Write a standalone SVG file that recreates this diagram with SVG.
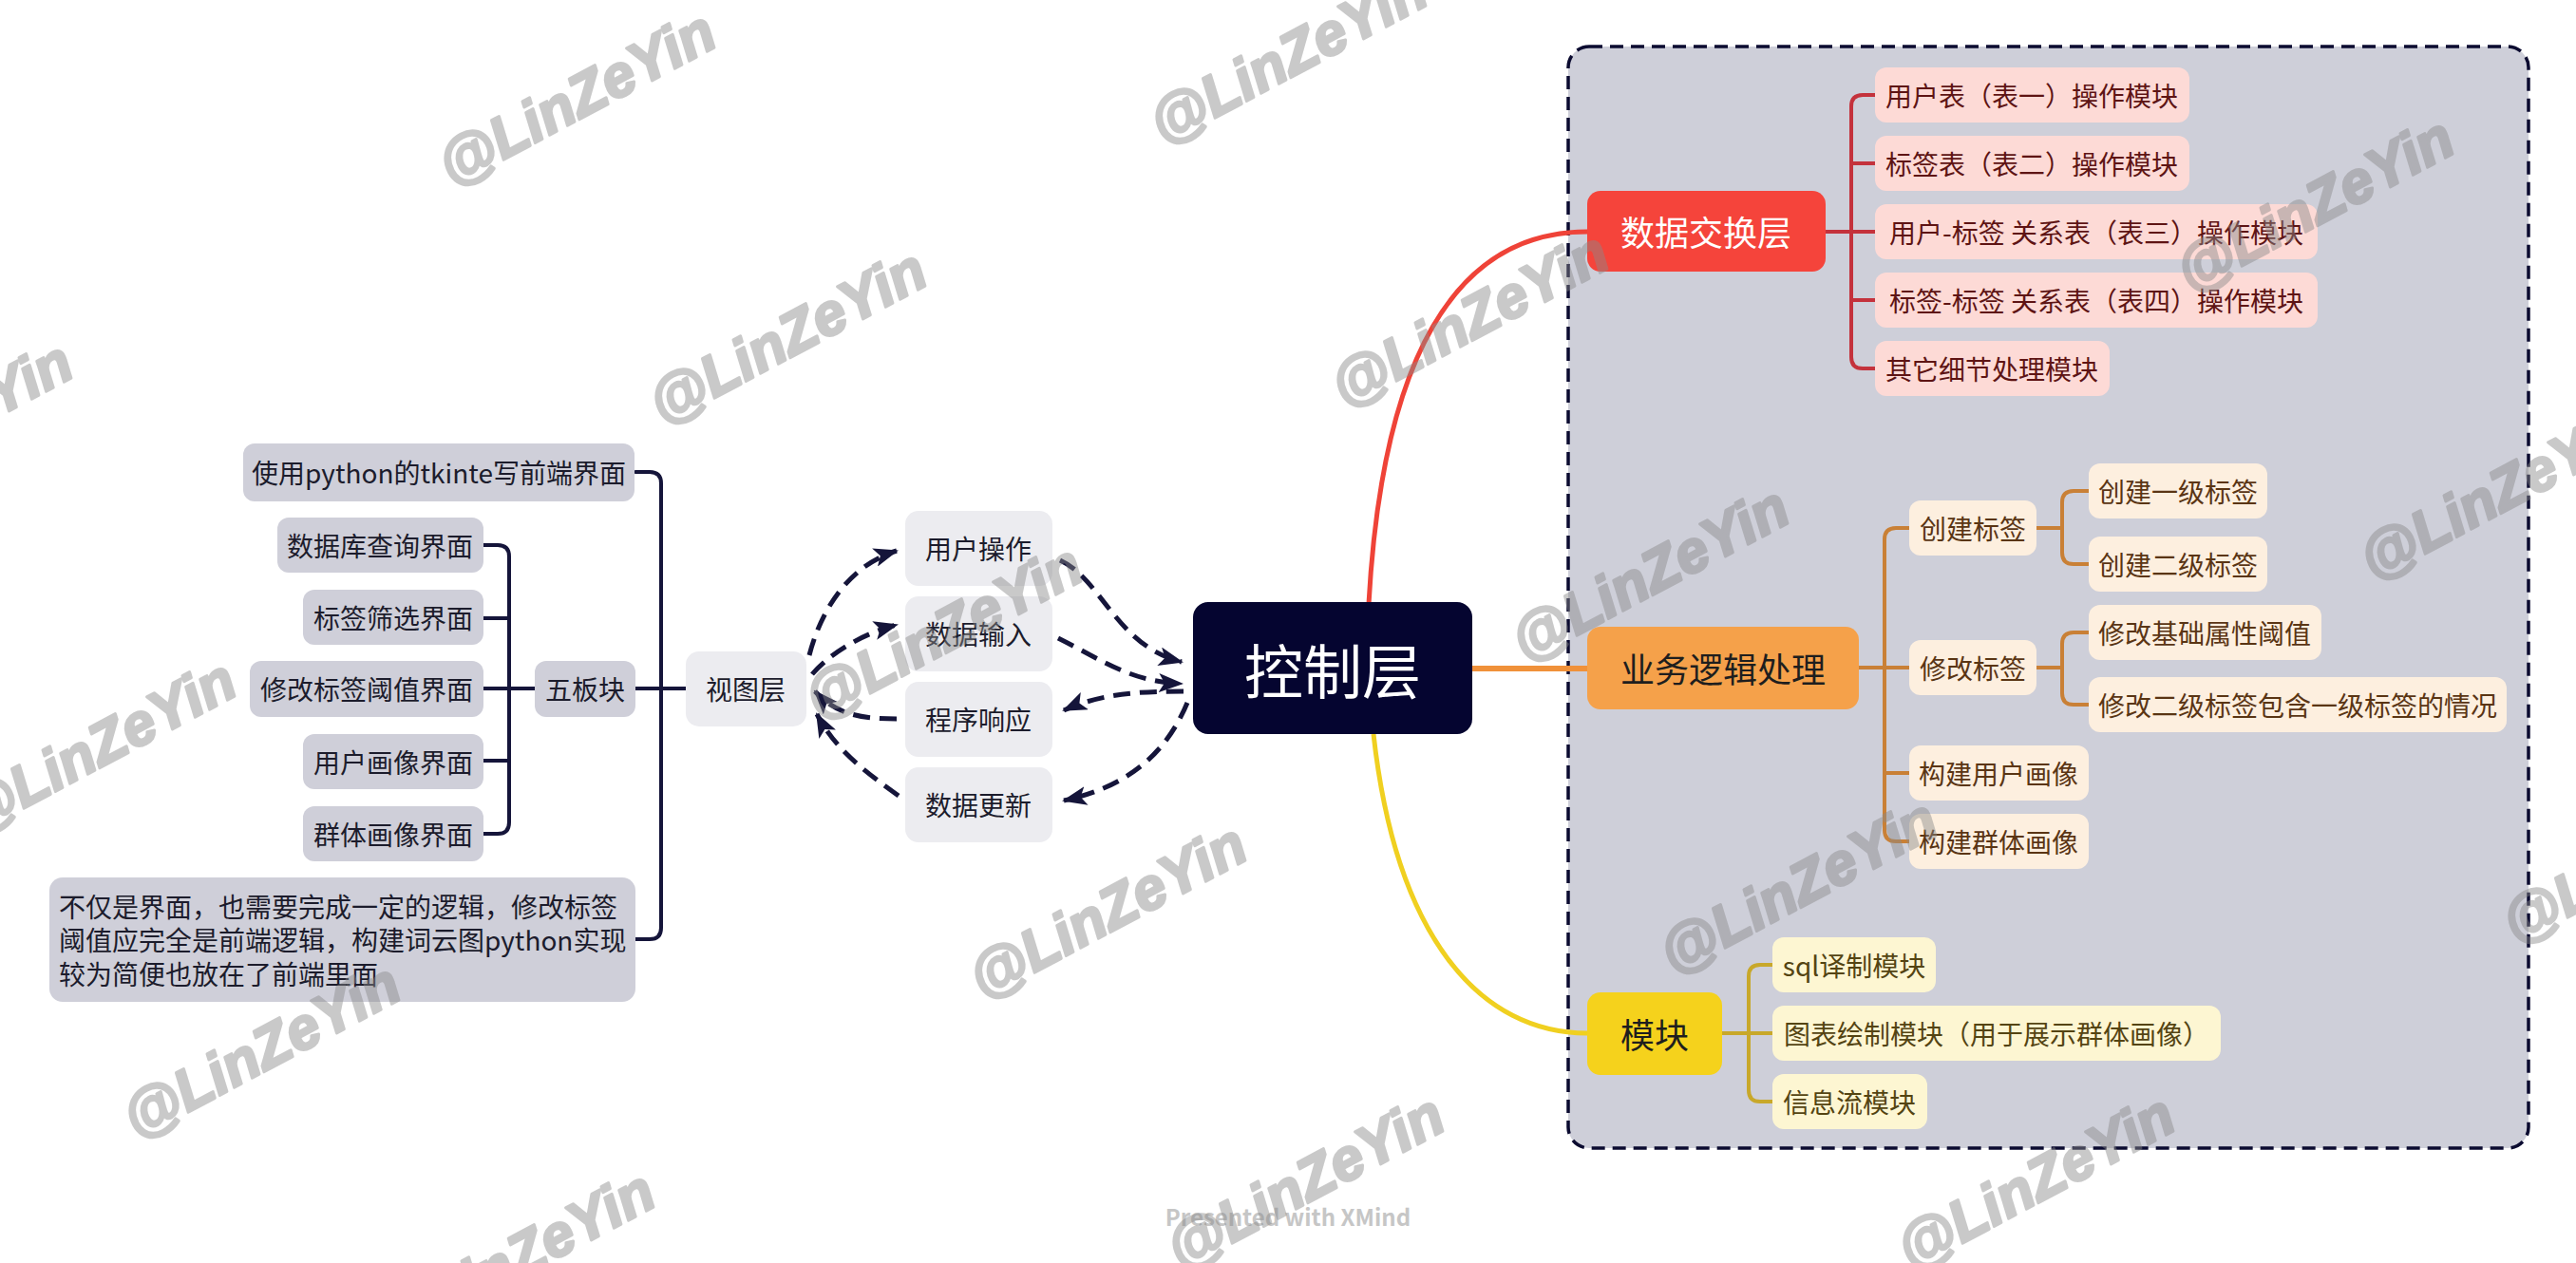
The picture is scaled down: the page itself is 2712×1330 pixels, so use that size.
<svg xmlns="http://www.w3.org/2000/svg" width="2712" height="1330" viewBox="0 0 2712 1330">
<style>
text{font-family:"Noto Sans CJK SC","Noto Sans",sans-serif;}
.t{font-size:28px;text-anchor:middle;dominant-baseline:central;}
.tl{font-size:28px;dominant-baseline:central;}
.big{font-size:36px;text-anchor:middle;dominant-baseline:central;}
.gray rect{fill:#cfcfd9;}
.gray text{fill:#1c1c2c;}
.light rect{fill:#ececf0;}
.light text{fill:#1c1c2c;}
.pink rect{fill:#fddad6;}
.pink text{fill:#5e1414;}
.cream rect{fill:#fdefdf;}
.cream text{fill:#5a3514;}
.yel rect{fill:#fdf6d2;}
.yel text{fill:#544412;}
.navy{fill:none;stroke:#15153a;stroke-width:4;stroke-linecap:round;stroke-linejoin:round;}
.dash{fill:none;stroke:#15153a;stroke-width:5;stroke-dasharray:18 10;}
.redl{fill:none;stroke:#c4323c;stroke-width:4;stroke-linejoin:round;}
.orl{fill:none;stroke:#c98036;stroke-width:4;stroke-linejoin:round;}
.yll{fill:none;stroke:#c8a82a;stroke-width:4;stroke-linejoin:round;}
.wm text{font-family:"Liberation Sans",Arial,sans-serif;font-weight:bold;font-style:italic;font-size:62px;fill:#8a8a8a;stroke:#8a8a8a;stroke-width:3;stroke-linejoin:round;opacity:0.45;text-anchor:middle;}
</style>
<defs>
<marker id="ah" viewBox="0 0 26 20" refX="24" refY="10" markerWidth="26" markerHeight="20" markerUnits="userSpaceOnUse" orient="auto">
<path d="M0,0 L26,10 L0,20 L6,10 z" fill="#15153a"/>
</marker>
</defs>
<rect width="2712" height="1330" fill="#ffffff"/>

<g id="boundary">
<rect x="1651" y="49" width="1011" height="1160" rx="22" fill="#cecfd9" stroke="#0b0b30" stroke-width="3.5" stroke-dasharray="14 8"/>
</g>

<g id="connectors">
<path class="navy" d="M669 497 H684 Q696 497 696 509 V977 Q696 989 684 989 H669"/>
<path class="navy" d="M669 725 H722"/>
<path class="navy" d="M509 574 H524 Q536 574 536 586 V866 Q536 878 524 878 H509"/>
<path class="navy" d="M509 651 H536 M509 801 H536 M509 725 H563"/>
<path class="dash" marker-end="url(#ah)" d="M852 690 C865 640 895 595 944 580"/>
<path class="dash" marker-end="url(#ah)" d="M855 710 C872 690 905 668 944 658"/>
<path class="dash" marker-end="url(#ah)" d="M944 757 C905 757 880 752 858 728"/>
<path class="dash" marker-end="url(#ah)" d="M946 838 C910 812 880 790 860 752"/>
<path class="dash" marker-end="url(#ah)" d="M1116 590 C1160 610 1175 680 1244 697"/>
<path class="dash" marker-end="url(#ah)" d="M1114 672 C1160 695 1190 718 1244 720"/>
<path class="dash" marker-end="url(#ah)" d="M1246 728 C1200 728 1160 730 1120 748"/>
<path class="dash" marker-end="url(#ah)" d="M1250 740 C1225 800 1180 830 1120 843"/>
<path fill="none" stroke="#ef4338" stroke-width="5" d="M1441 636 C1455 380 1530 244 1671 244"/>
<path fill="none" stroke="#f0913a" stroke-width="6" d="M1550 704 H1671"/>
<path fill="none" stroke="#f0d020" stroke-width="5" d="M1446 773 C1470 990 1560 1088 1671 1088"/>
<path class="redl" d="M1974 100 H1961 Q1949 100 1949 112 V376 Q1949 388 1961 388 H1974"/>
<path class="redl" d="M1949 172 H1974 M1921 244 H1974 M1949 316 H1974"/>
<path class="orl" d="M2010 556 H1996 Q1984 556 1984 568 V874 Q1984 886 1996 886 H2010"/>
<path class="orl" d="M1957 703 H2010 M1984 814 H2010"/>
<path class="orl" d="M2199 517 H2183 Q2171 517 2171 529 V582 Q2171 594 2183 594 H2199 M2144 556 H2171"/>
<path class="orl" d="M2199 666 H2183 Q2171 666 2171 678 V730 Q2171 742 2183 742 H2199 M2144 703 H2171"/>
<path class="yll" d="M1866 1016 H1853 Q1841 1016 1841 1028 V1148 Q1841 1160 1853 1160 H1866"/>
<path class="yll" d="M1813 1088 H1866"/>
</g>

<g id="n-tk" class="gray"><rect x="256" y="467" width="412" height="61" rx="12"/><text class="t" x="462" y="497">使用python的tkinte写前端界面</text></g>
<g id="n-db" class="gray"><rect x="292" y="545" width="217" height="58" rx="12"/><text class="t" x="400" y="574">数据库查询界面</text></g>
<g id="n-tag" class="gray"><rect x="319" y="621" width="190" height="58" rx="12"/><text class="t" x="414" y="650">标签筛选界面</text></g>
<g id="n-thr" class="gray"><rect x="263" y="696" width="246" height="59" rx="12"/><text class="t" x="386" y="725">修改标签阈值界面</text></g>
<g id="n-user" class="gray"><rect x="319" y="773" width="190" height="58" rx="12"/><text class="t" x="414" y="802">用户画像界面</text></g>
<g id="n-group" class="gray"><rect x="319" y="849" width="190" height="58" rx="12"/><text class="t" x="414" y="878">群体画像界面</text></g>
<g id="n-five" class="gray"><rect x="563" y="696" width="106" height="59" rx="12"/><text class="t" x="616" y="725">五板块</text></g>
<g id="n-note" class="gray"><rect x="52" y="924" width="617" height="131" rx="14"/>
<text class="tl" x="62" y="954">不仅是界面，也需要完成一定的逻辑，修改标签</text>
<text class="tl" x="62" y="989">阈值应完全是前端逻辑，构建词云图python实现</text>
<text class="tl" x="62" y="1025">较为简便也放在了前端里面</text></g>
<g id="n-view" class="light"><rect x="722" y="686" width="127" height="79" rx="14"/><text class="t" x="785" y="725">视图层</text></g>

<g id="n-op" class="light"><rect x="953" y="538" width="155" height="79" rx="14"/><text class="t" x="1030" y="577">用户操作</text></g>
<g id="n-in" class="light"><rect x="953" y="628" width="155" height="79" rx="14"/><text class="t" x="1030" y="667">数据输入</text></g>
<g id="n-resp" class="light"><rect x="953" y="718" width="155" height="79" rx="14"/><text class="t" x="1030" y="757">程序响应</text></g>
<g id="n-upd" class="light"><rect x="953" y="808" width="155" height="79" rx="14"/><text class="t" x="1030" y="847">数据更新</text></g>

<g id="n-ctrl"><rect x="1256" y="634" width="294" height="139" rx="16" fill="#050530"/><text x="1403" y="704" font-size="62" fill="#ffffff" text-anchor="middle" dominant-baseline="central">控制层</text></g>

<g id="n-dx"><rect x="1671" y="201" width="251" height="85" rx="14" fill="#f5443b"/><text class="big" x="1796" y="243" fill="#ffffff">数据交换层</text></g>
<g id="n-dx1" class="pink"><rect x="1974" y="71" width="331" height="58" rx="12"/><text class="t" x="2139" y="100">用户表（表一）操作模块</text></g>
<g id="n-dx2" class="pink"><rect x="1974" y="143" width="331" height="58" rx="12"/><text class="t" x="2139" y="172">标签表（表二）操作模块</text></g>
<g id="n-dx3" class="pink"><rect x="1974" y="215" width="466" height="58" rx="12"/><text class="t" x="2207" y="244">用户-标签 关系表（表三）操作模块</text></g>
<g id="n-dx4" class="pink"><rect x="1974" y="287" width="466" height="58" rx="12"/><text class="t" x="2207" y="316">标签-标签 关系表（表四）操作模块</text></g>
<g id="n-dx5" class="pink"><rect x="1974" y="359" width="247" height="58" rx="12"/><text class="t" x="2097" y="388">其它细节处理模块</text></g>

<g id="n-biz"><rect x="1671" y="660" width="286" height="87" rx="14" fill="#f5a14a"/><text class="big" x="1814" y="703" fill="#1e1e1e">业务逻辑处理</text></g>
<g id="n-create" class="cream"><rect x="2010" y="527" width="134" height="58" rx="12"/><text class="t" x="2077" y="556">创建标签</text></g>
<g id="n-modify" class="cream"><rect x="2010" y="674" width="134" height="58" rx="12"/><text class="t" x="2077" y="703">修改标签</text></g>
<g id="n-buser" class="cream"><rect x="2010" y="785" width="189" height="58" rx="12"/><text class="t" x="2104" y="814">构建用户画像</text></g>
<g id="n-bgroup" class="cream"><rect x="2010" y="857" width="189" height="58" rx="12"/><text class="t" x="2104" y="886">构建群体画像</text></g>
<g id="n-c1" class="cream"><rect x="2199" y="488" width="188" height="58" rx="12"/><text class="t" x="2293" y="517">创建一级标签</text></g>
<g id="n-c2" class="cream"><rect x="2199" y="565" width="188" height="58" rx="12"/><text class="t" x="2293" y="594">创建二级标签</text></g>
<g id="n-m1" class="cream"><rect x="2199" y="637" width="245" height="58" rx="12"/><text class="t" x="2321" y="666">修改基础属性阈值</text></g>
<g id="n-m2" class="cream"><rect x="2199" y="713" width="440" height="58" rx="12"/><text class="t" x="2419" y="742">修改二级标签包含一级标签的情况</text></g>

<g id="n-mod"><rect x="1671" y="1045" width="142" height="87" rx="14" fill="#f5d21c"/><text class="big" x="1742" y="1088" fill="#1e1e1e">模块</text></g>
<g id="n-sql" class="yel"><rect x="1866" y="987" width="172" height="58" rx="12"/><text class="t" x="1952" y="1016">sql译制模块</text></g>
<g id="n-chart" class="yel"><rect x="1866" y="1059" width="472" height="58" rx="12"/><text class="t" x="2102" y="1088">图表绘制模块（用于展示群体画像）</text></g>
<g id="n-flow" class="yel"><rect x="1866" y="1131" width="163" height="58" rx="12"/><text class="t" x="1947" y="1160">信息流模块</text></g>

<g id="footer"><text x="1356" y="1280" font-family="Roboto,'Noto Sans',sans-serif" font-size="24" font-weight="bold" fill="#c6c6c6" text-anchor="middle" dominant-baseline="central">Presented with XMind</text></g>

<g id="watermarks" class="wm">
<text transform="translate(617,122) rotate(-28)">@LinZeYin</text>
<text transform="translate(1366,78) rotate(-28)">@LinZeYin</text>
<text transform="translate(839,373) rotate(-28)">@LinZeYin</text>
<text transform="translate(1557,355) rotate(-28)">@LinZeYin</text>
<text transform="translate(1747,623) rotate(-28)">@LinZeYin</text>
<text transform="translate(2447,234) rotate(-28)">@LinZeYin</text>
<text transform="translate(2640,537) rotate(-28)">@LinZeYin</text>
<text transform="translate(112,805) rotate(-28)">@LinZeYin</text>
<text transform="translate(1003,684) rotate(-28)">@LinZeYin</text>
<text transform="translate(1903,952) rotate(-28)">@LinZeYin</text>
<text transform="translate(1176,978) rotate(-28)">@LinZeYin</text>
<text transform="translate(285,1125) rotate(-28)">@LinZeYin</text>
<text transform="translate(1384,1263) rotate(-28)">@LinZeYin</text>
<text transform="translate(2153,1263) rotate(-28)">@LinZeYin</text>
<text transform="translate(-60,470) rotate(-28)">@LinZeYin</text>
<text transform="translate(553,1343) rotate(-28)">@LinZeYin</text>
<text transform="translate(2790,920) rotate(-28)">@LinZeYin</text>
</g>
</svg>
